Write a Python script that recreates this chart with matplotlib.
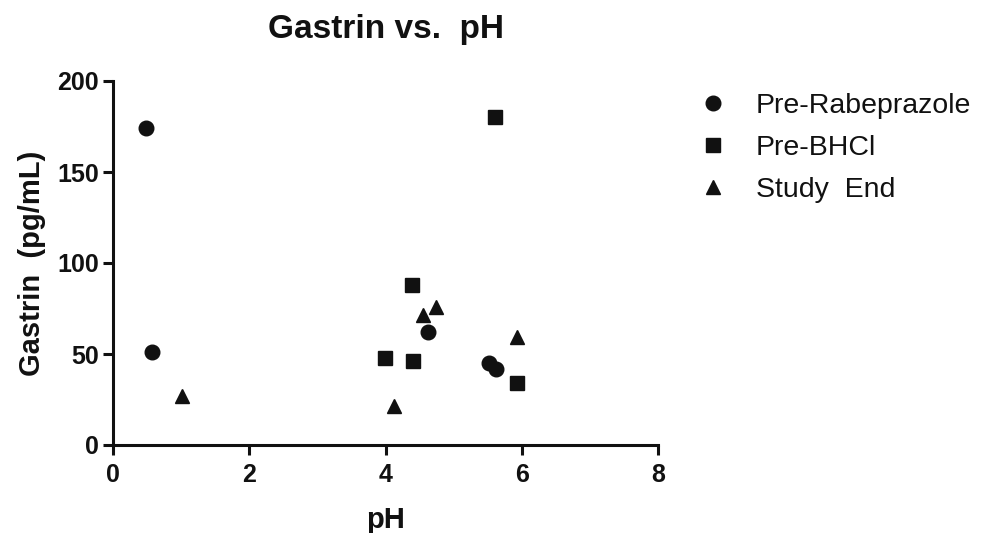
import matplotlib
matplotlib.use("Agg")
import matplotlib.pyplot as plt

plt.rcParams['font.family'] = ['Liberation Sans', 'DejaVu Sans']

# Data (pH, Gastrin pg/mL)
pre_rabe_ph = [0.48, 0.57, 4.62, 5.52, 5.62]
pre_rabe_gastrin = [174, 51, 62, 45, 42]
pre_bhcl_ph = [5.60, 4.39, 3.99, 4.40, 5.93]
pre_bhcl_gastrin = [180, 88, 48, 46, 34]
study_end_ph = [1.01, 4.13, 4.55, 4.74, 5.93]
study_end_gastrin = [27, 21.5, 71.5, 76, 59.5]

series_labels = ['Pre-Rabeprazole', 'Pre-BHCl', 'Study  End']
x_ticks = [0, 2, 4, 6, 8]
y_ticks = [0, 50, 100, 150, 200]

fig = plt.figure(figsize=(9.81, 5.33), dpi=100)
ax = fig.add_axes([113/981, 1-445/533, (658-113)/981, (445-81)/533])

ms = 10.5
ax.plot(pre_rabe_ph, pre_rabe_gastrin, 'o', color='#111111', ms=ms, label=series_labels[0], clip_on=False)
ax.plot(pre_bhcl_ph, pre_bhcl_gastrin, 's', color='#111111', ms=ms*0.95, label=series_labels[1], clip_on=False)
ax.plot(study_end_ph, study_end_gastrin, '^', color='#111111', ms=ms, label=series_labels[2], clip_on=False)

ax.set_xlim(0, 8)
ax.set_ylim(0, 200)
ax.set_xticks(x_ticks)
ax.set_yticks(y_ticks)
for s in ['top', 'right']:
    ax.spines[s].set_visible(False)
for s in ['left', 'bottom']:
    ax.spines[s].set_linewidth(2.2)
    ax.spines[s].set_color('#111111')
ax.tick_params(axis='both', direction='out', length=7, width=2.2, color='#111111',
               labelsize=18, pad=3)
ax.tick_params(axis='x', pad=6)
for lab in ax.get_xticklabels() + ax.get_yticklabels():
    lab.set_fontweight('bold')
    lab.set_color('#111111')

ax.set_title('Gastrin vs.  pH', fontsize=24, fontweight='bold', color='#111111', pad=31)
ax.set_xlabel('pH', fontsize=21, fontweight='bold', color='#111111', labelpad=14)
ax.set_ylabel('Gastrin  (pg/mL)', fontsize=21, fontweight='bold', color='#111111', labelpad=8)

leg = fig.legend(loc='upper left', bbox_to_anchor=(699/981, 1-93/533), frameon=False,
                 fontsize=20.5, numpoints=1, handlelength=1.0, handletextpad=1.0,
                 labelspacing=0.56, borderpad=0, borderaxespad=0)
for t in leg.get_texts():
    t.set_color('#111111')

fig.savefig('out.png', dpi=100)
